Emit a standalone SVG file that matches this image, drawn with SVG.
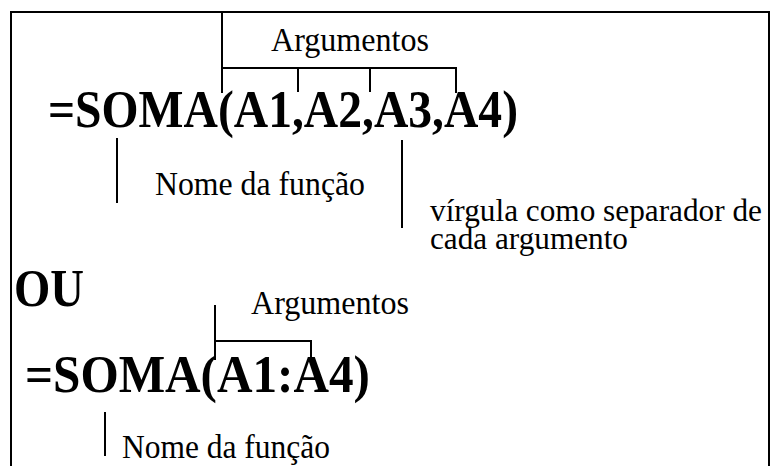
<svg xmlns="http://www.w3.org/2000/svg" width="771" height="466" viewBox="0 0 771 466">
<style>
.ln{fill:none;stroke:#000;stroke-width:2}
.lbl{font-family:'Liberation Serif','Times New Roman',Times,serif;font-size:33px;fill:#000}
.sm{font-size:31px}
.fx{font-family:'Liberation Serif','Times New Roman',Times,serif;font-size:52px;font-weight:bold;fill:#000}
</style>
<rect width="771" height="466" fill="#fff"/>
<path class="ln" d="M11,466 V12 H769 V466"/>
<g id="formula1">
<text class="fx" x="48" y="127" textLength="470" lengthAdjust="spacingAndGlyphs">=SOMA(A1,A2,A3,A4)</text>
</g>
<g id="args1"><text class="lbl" x="271" y="51" textLength="158" lengthAdjust="spacingAndGlyphs">Argumentos</text></g>
<g id="nome1"><text class="lbl" x="155" y="195" textLength="210" lengthAdjust="spacingAndGlyphs">Nome da função</text></g>
<g id="virgula"><text class="lbl sm" x="430" y="221" textLength="332" lengthAdjust="spacingAndGlyphs">vírgula como separador de</text>
<text class="lbl sm" x="430" y="249" textLength="198" lengthAdjust="spacingAndGlyphs">cada argumento</text></g>
<g id="ou"><text class="fx" x="14" y="306" textLength="70" lengthAdjust="spacingAndGlyphs">OU</text></g>
<g id="formula2"><text class="fx" x="25" y="392" textLength="345" lengthAdjust="spacingAndGlyphs">=SOMA(A1:A4)</text></g>
<g id="args2"><text class="lbl" x="251" y="314" textLength="158" lengthAdjust="spacingAndGlyphs">Argumentos</text></g>
<g id="nome2"><text class="lbl" x="122" y="458" textLength="208" lengthAdjust="spacingAndGlyphs">Nome da função</text></g>
<g id="connectors">
<path class="ln" d="M222,12 V93 M222,68 H456 V93 M298,68 V92 M370,68 V92"/>
<path class="ln" d="M117,138 V203"/>
<path class="ln" d="M402,140 V228"/>
<path class="ln" d="M215,305 V360 M215,341 H311 V360"/>
<path class="ln" d="M105,412 V456"/>
</g>
</svg>
